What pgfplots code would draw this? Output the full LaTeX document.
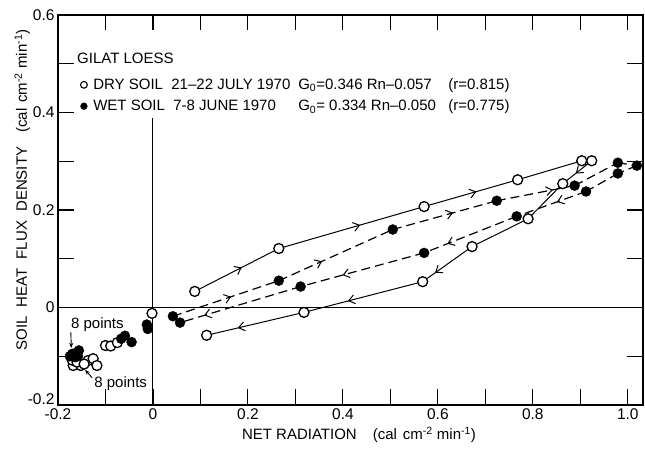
\documentclass[border=0pt]{standalone}
\usepackage{fontspec}
\setmainfont{Liberation Sans}
\usepackage{pgfplots}
\pgfplotsset{compat=1.18}
\usetikzlibrary{decorations.markings,arrows.meta}
\tikzset{
  arr/.style={postaction={decorate}, decoration={markings, mark=at position #1 with {\arrow{Straight Barb[length=6pt,width=9pt,line width=1pt]}}}},
  dryl/.style={black, line width=1pt},
  wetl/.style={black, line width=1.2pt, dash pattern=on 9pt off 5pt},
}
\begin{document}
\begin{tikzpicture}[font=\fontsize{15}{18}\selectfont]
\useasboundingbox (-58pt,-43pt) rectangle (587pt,405pt);
\begin{axis}[
  at={(0pt,0pt)}, anchor=south west,
  scale only axis, width=585pt, height=390pt,
  xmin=-0.2, xmax=1.032, ymin=-0.2, ymax=0.6,
  xtick={-0.2,0,0.2,0.4,0.6,0.8,1.0},
  xticklabels={-0.2,0,0.2,0.4,0.6,0.8,1.0},
  ytick={-0.2,0,0.2,0.4,0.6},
  yticklabels={\raisebox{12pt}{-0.2},0,0.2,0.4,0.6},
  major tick length=0pt,
  axis line style={line width=1.3pt},
  ticklabel style={font=\fontsize{15.5}{18}\selectfont},
  clip=false,
  xlabel={NET RADIATION\hspace{16pt}(cal\hspace{6pt}cm\textsuperscript{-2} min\textsuperscript{-1})},
  xlabel style={at={(axis description cs:0.5145,-0.0897)}, anchor=base},
  ylabel={SOIL\hspace{5pt} HEAT\hspace{5pt} FLUX\hspace{5pt} DENSITY\hspace{14pt}(cal\hspace{6pt}cm\textsuperscript{-2} min\textsuperscript{-1})},
  ylabel style={at={(axis description cs:-0.053,0.551)}, anchor=base},
  legend style={at={(axis cs:-0.153,0.474)}, anchor=north west, draw=none, fill=none, inner sep=0pt, row sep=5pt,
    font=\fontsize{15}{18}\selectfont, /tikz/every odd column/.style={column sep=4pt}},
  legend cell align=left,
]
% tick marks (inside, every 0.1, on all four sides)
\pgfplotsinvokeforeach{-0.1,0,0.1,0.2,0.3,0.4,0.5,0.6,0.7,0.8,0.9,1.0}{
  \draw[line width=1.1pt, black] (axis cs:#1,-0.2) -- (axis cs:#1,-0.167);
  \draw[line width=1.1pt, black] (axis cs:#1,0.6) -- (axis cs:#1,0.569);
}
\pgfplotsinvokeforeach{-0.1,0,0.1,0.2,0.3,0.4,0.5}{
  \draw[line width=1.1pt, black] (axis cs:-0.2,#1) -- (axis cs:-0.166,#1);
  \draw[line width=1.1pt, black] (axis cs:1.032,#1) -- (axis cs:0.998,#1);
}
% reference lines
\draw[line width=1pt] (axis cs:0,-0.2) -- (axis cs:0,0.389);
\draw[line width=1pt] (axis cs:-0.2,0) -- (axis cs:1.032,0);

% legend
\addlegendimage{only marks, mark=*, mark size=3.4pt, mark options={fill=white, draw=black, line width=1.1pt}}
\addlegendentry{\makebox[205pt][l]{DRY SOIL\ \ 21–22 JULY 1970}\makebox[150pt][l]{G\textsubscript{0}=0.346 Rn–0.057}(r=0.815)}
\addlegendimage{only marks, mark=*, mark size=3.4pt, black}
\addlegendentry{\makebox[205pt][l]{WET SOIL\ \ 7-8 JUNE 1970}\makebox[150pt][l]{G\textsubscript{0}= 0.334 Rn–0.050}(r=0.775)}

% dry soil path (solid)
\addplot[dryl, arr=0.56, forget plot] coordinates {(0.088,0.033) (0.265,0.121)};
\addplot[dryl, arr=0.56, forget plot] coordinates {(0.265,0.121) (0.571,0.207)};
\addplot[dryl, arr=0.56, forget plot] coordinates {(0.571,0.207) (0.768,0.262)};
\addplot[dryl, forget plot] coordinates {(0.768,0.262) (0.903,0.301)};
\addplot[dryl, forget plot] coordinates {(0.903,0.301) (0.924,0.301)};
\addplot[dryl, arr=0.55, forget plot] coordinates {(0.924,0.301) (0.863,0.254)};
\addplot[dryl, forget plot] coordinates {(0.863,0.254) (0.790,0.182)};
\addplot[dryl, forget plot] coordinates {(0.790,0.182) (0.672,0.125)};
\addplot[dryl, arr=0.75, forget plot] coordinates {(0.672,0.125) (0.568,0.053)};
\addplot[dryl, arr=0.63, forget plot] coordinates {(0.568,0.053) (0.318,-0.010)};
\addplot[dryl, arr=0.68, forget plot] coordinates {(0.318,-0.010) (0.113,-0.057)};

% wet soil path (dashed)
\addplot[wetl, arr=0.55, forget plot] coordinates {(0.042,-0.018) (0.265,0.055)};
\addplot[wetl, arr=0.38, forget plot] coordinates {(0.265,0.055) (0.505,0.160)};
\addplot[wetl, arr=0.58, forget plot] coordinates {(0.505,0.160) (0.724,0.219)};
\addplot[wetl, arr=0.72, forget plot] coordinates {(0.724,0.219) (0.888,0.250)};
\addplot[wetl, forget plot] coordinates {(0.888,0.250) (0.979,0.297)};
\addplot[wetl, forget plot] coordinates {(0.979,0.297) (1.019,0.291)};
\addplot[wetl, forget plot] coordinates {(1.019,0.291) (0.979,0.275)};
\addplot[wetl, forget plot] coordinates {(0.979,0.275) (0.912,0.238)};
\addplot[wetl, arr=0.42, forget plot] coordinates {(0.912,0.238) (0.766,0.187)};
\addplot[wetl, arr=0.75, forget plot] coordinates {(0.766,0.187) (0.571,0.112)};
\addplot[wetl, arr=0.66, forget plot] coordinates {(0.571,0.112) (0.311,0.043)};
\addplot[wetl, arr=0.80, forget plot] coordinates {(0.311,0.043) (0.057,-0.031)};

% dry soil points (open)
\addplot[only marks, mark=*, mark size=5pt, mark options={fill=white, draw=black, line width=1.3pt}, forget plot] coordinates {
(0.088,0.033) (0.265,0.121) (0.571,0.207) (0.768,0.262) (0.903,0.301) (0.924,0.301)
(0.863,0.254) (0.790,0.182) (0.672,0.125) (0.568,0.053) (0.318,-0.010) (0.113,-0.057)
(-0.002,-0.012) (-0.100,-0.078) (-0.089,-0.079) (-0.075,-0.072)
(-0.168,-0.119) (-0.152,-0.119) (-0.137,-0.109) (-0.126,-0.105) (-0.118,-0.119)
(-0.170,-0.108) (-0.160,-0.112) (-0.145,-0.116)
};
% wet soil points (filled)
\addplot[only marks, mark=*, mark size=5pt, black, forget plot] coordinates {
(0.042,-0.018) (0.265,0.055) (0.505,0.160) (0.724,0.219) (0.888,0.250) (0.979,0.297)
(1.019,0.291) (0.979,0.275) (0.912,0.238) (0.766,0.187) (0.571,0.112) (0.311,0.043) (0.057,-0.031)
(-0.013,-0.035) (-0.011,-0.044) (-0.067,-0.064) (-0.059,-0.058) (-0.045,-0.071)
(-0.175,-0.100) (-0.168,-0.098) (-0.164,-0.102) (-0.160,-0.092) (-0.156,-0.088)
(-0.170,-0.095) (-0.162,-0.097) (-0.158,-0.100)
};

% annotations
\node[anchor=base west, inner sep=0pt] at (axis cs:-0.160,0.5) {GILAT LOESS};
\node[anchor=base, inner sep=0pt] at (axis cs:-0.117,-0.043) {8 points};
\node[anchor=base, inner sep=0pt] at (axis cs:-0.068,-0.164) {8 points};
\draw[-{Stealth[length=5pt,width=4pt]}, line width=0.9pt] (axis cs:-0.173,-0.051) -- (axis cs:-0.172,-0.083);
\draw[-{Stealth[length=5pt,width=4pt]}, line width=0.9pt] (axis cs:-0.128,-0.144) -- (axis cs:-0.143,-0.128);
\end{axis}
\end{tikzpicture}
\end{document}
